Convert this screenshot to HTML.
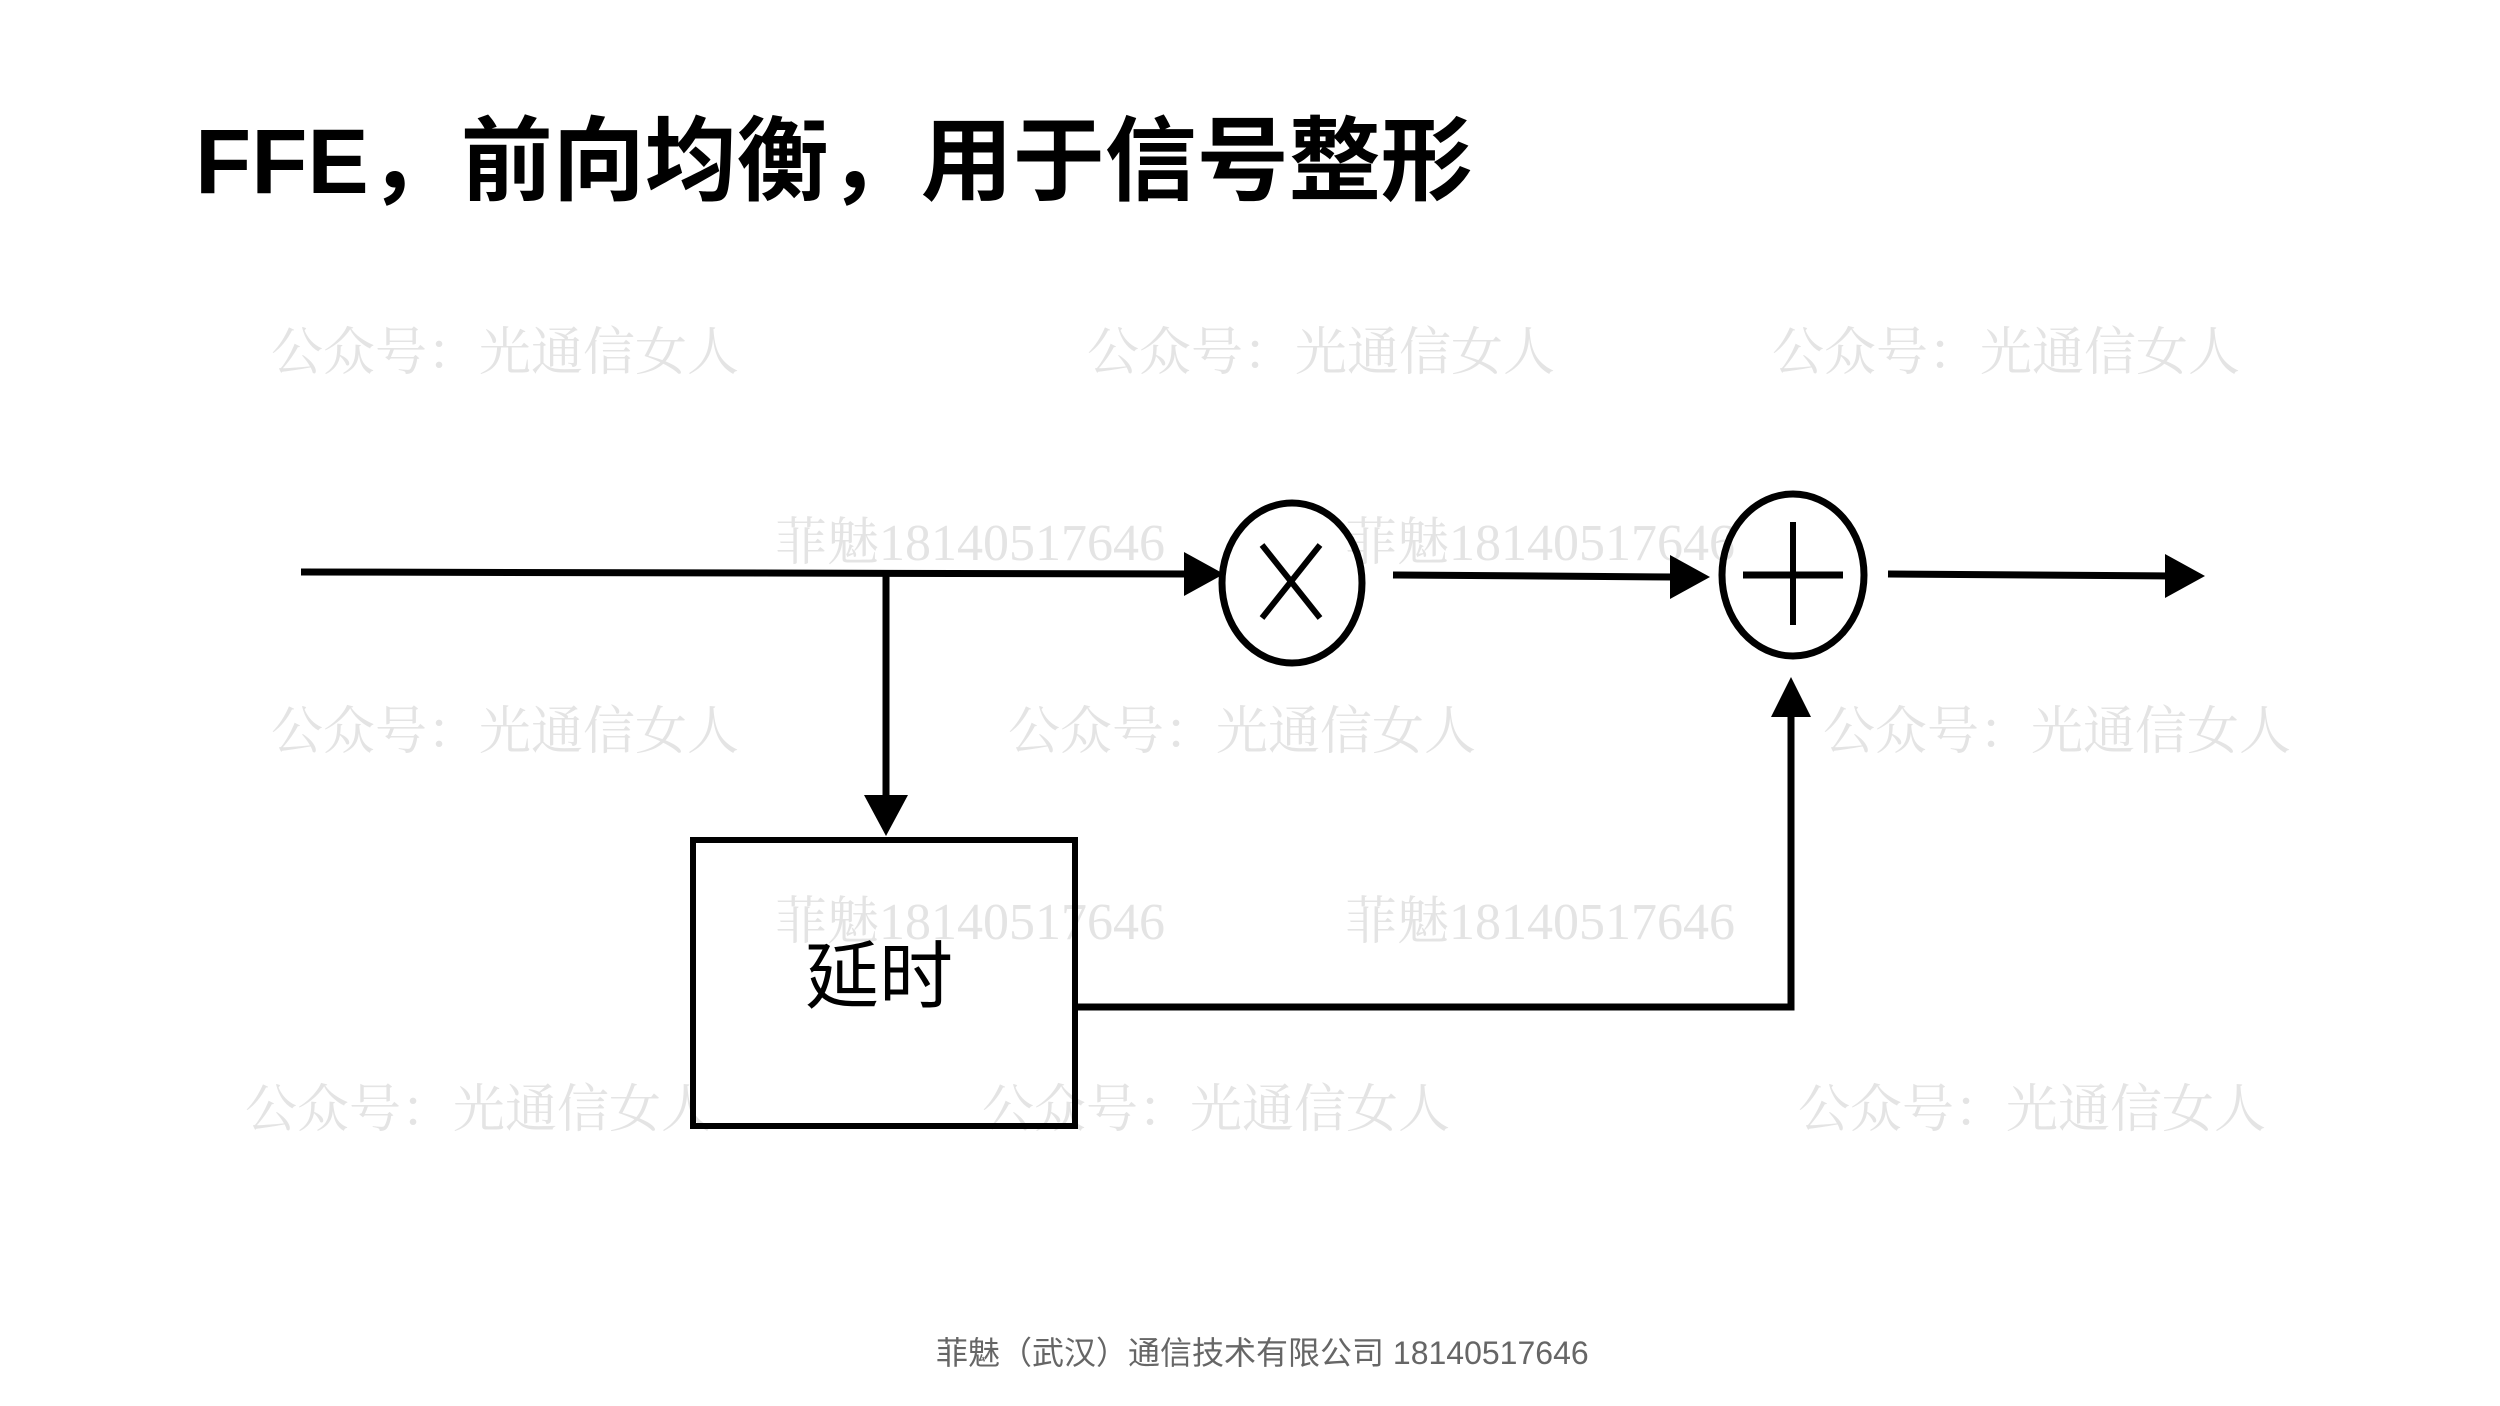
<!DOCTYPE html>
<html><head><meta charset="utf-8"><style>
html,body{margin:0;padding:0;background:#fff;}
body{width:2500px;height:1406px;position:relative;overflow:hidden;}
.t{position:absolute;white-space:nowrap;}
.wm{font-family:"Liberation Serif","Noto Serif CJK SC",serif;font-size:52px;color:#e4e4e4;line-height:1;}
</style></head><body>
<div class="t wm" style="left:271px;top:328px">公众号：光通信女人</div>
<div class="t wm" style="left:1087px;top:328px">公众号：光通信女人</div>
<div class="t wm" style="left:1772px;top:328px">公众号：光通信女人</div>
<div class="t wm" style="left:271px;top:707px">公众号：光通信女人</div>
<div class="t wm" style="left:1008px;top:707px">公众号：光通信女人</div>
<div class="t wm" style="left:1823px;top:707px">公众号：光通信女人</div>
<div class="t wm" style="left:245px;top:1085px">公众号：光通信女人</div>
<div class="t wm" style="left:982px;top:1085px">公众号：光通信女人</div>
<div class="t wm" style="left:1798px;top:1085px">公众号：光通信女人</div>
<div class="t wm" style="left:775px;top:518px">菲魅18140517646</div>
<div class="t wm" style="left:1345px;top:518px">菲魅18140517646</div>
<div class="t wm" style="left:775px;top:897px">菲魅18140517646</div>
<div class="t wm" style="left:1345px;top:897px">菲魅18140517646</div>
<div class="t" style="left:195px;top:112px;font-family:'Liberation Sans','Noto Sans CJK SC',sans-serif;font-weight:bold;font-size:92px;line-height:1.1;color:#000">FFE，前向均衡，用于信号整形</div>
<svg style="position:absolute;left:0;top:0" width="2500" height="1406">
<g stroke="#000" stroke-width="7" fill="none">
<line x1="301" y1="572" x2="1190" y2="574"/>
<line x1="886" y1="573" x2="886" y2="800"/>
<rect x="693" y="840" width="382" height="286" stroke-width="6"/>
<ellipse cx="1292" cy="583" rx="70" ry="80"/>
<line x1="1262" y1="545" x2="1320" y2="618" stroke-width="6"/>
<line x1="1320" y1="545" x2="1262" y2="618" stroke-width="6"/>
<line x1="1393" y1="575" x2="1675" y2="577"/>
<ellipse cx="1793" cy="575" rx="71" ry="81"/>
<line x1="1793" y1="522" x2="1793" y2="625" stroke-width="6"/>
<line x1="1743" y1="575" x2="1843" y2="575" stroke-width="7"/>
<line x1="1888" y1="574" x2="2170" y2="576"/>
<polyline points="1075,1007 1791,1007 1791,710"/>
</g>
<g fill="#000">
<polygon points="1184,552 1184,596 1224,574"/>
<polygon points="1670,555 1670,599 1710,577"/>
<polygon points="2165,554 2165,598 2205,576"/>
<polygon points="864,795 908,795 886,836"/>
<polygon points="1771,717 1811,717 1791,677"/>
</g>
</svg>
<div class="t" style="left:805px;top:940px;font-family:'Liberation Sans','Noto Sans CJK SC',sans-serif;font-size:74px;line-height:1;color:#000">延时</div>
<div class="t" style="left:936px;top:1334px;font-family:'Liberation Sans','Noto Sans CJK SC',sans-serif;font-size:32px;line-height:1.2;color:#666">菲魅（武汉）通信技术有限公司 18140517646</div>
</body></html>
